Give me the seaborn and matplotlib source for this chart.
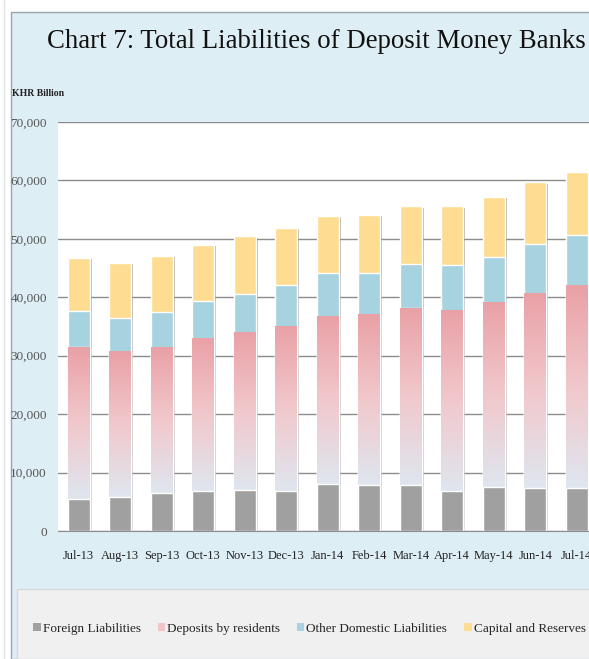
import numpy as np
import matplotlib.pyplot as plt
import matplotlib.patheffects as pe
from matplotlib.patches import Rectangle, Patch
from matplotlib.colors import LinearSegmentedColormap
import seaborn as sns

months = ["Jul-13", "Aug-13", "Sep-13", "Oct-13", "Nov-13", "Dec-13", "Jan-14",
          "Feb-14", "Mar-14", "Apr-14", "May-14", "Jun-14", "Jul-14"]
# KHR billion
foreign = [5550, 5830, 6520, 6810, 6980, 6810, 8060, 7790, 7950, 6810, 7490, 7320, 7320]
deposits = [26000, 24870, 24870, 26070, 26980, 28070, 28640, 29150, 30190, 30920, 31610, 33280, 34590]
other_dom = [6170, 5830, 6130, 6470, 6640, 7200, 7500, 7260, 7550, 7780, 7840, 8450, 8750]
capital = [9040, 9380, 9600, 9660, 9890, 9830, 9770, 9940, 9940, 10120, 10290, 10630, 10860]
labels = ["Foreign Liabilities", "Deposits by residents",
          "Other Domestic Liabilities", "Capital and Reserves"]

c_gray = "#a0a0a0"
c_pink = "#eba9ad"
c_blue = "#a6d3df"
c_yellow = "#fedd92"

sns.set_style("white")
plt.rcParams["font.family"] = ["Liberation Serif", "DejaVu Serif"]

fig = plt.figure(figsize=(5.89, 6.59), dpi=100)
W, H = 589, 659

# panel backgrounds
fig.patches.append(Rectangle((11 / W, 0), 1, 1 - 12 / H, transform=fig.transFigure,
                             facecolor="#deeef5", edgecolor="#9aa4aa", lw=1, zorder=-10))
fig.patches.append(Rectangle((17 / W, 0), 1, 70 / H, transform=fig.transFigure,
                             facecolor="#f0f0f0", edgecolor="#d6dadc", lw=1, zorder=-9))
fig.add_artist(plt.Line2D([3.5 / W, 3.5 / W], [0, 1], color="#dde3e6", lw=1))

ax = fig.add_axes([58 / W, 128 / H, 539.5 / W, 409 / H])
ax.set_facecolor("white")

f = np.array(foreign)
d = f + np.array(deposits)
o = d + np.array(other_dom)
t = o + np.array(capital)

bw = 0.53
shadow = [pe.SimplePatchShadow(offset=(1.6, -1.2), shadow_rgbFace="#6f6f6f", alpha=0.5),
          pe.Normal()]
sns.barplot(x=months, y=t, color=c_yellow, saturation=1, width=bw, ax=ax, zorder=2)
for p in ax.patches:
    p.set_path_effects(shadow)
sns.barplot(x=months, y=o, color=c_blue, saturation=1, width=bw, ax=ax, zorder=2.1)
n_before = len(ax.patches)
sns.barplot(x=months, y=d, color=c_pink, saturation=1, width=bw, ax=ax, zorder=2.2)
dep_bars = ax.patches[n_before:]

# vertical gradient of the deposits segment
cmap = LinearSegmentedColormap.from_list("dep", ["#dfe6ef", "#f1c8cc", "#e9a1a6"])
grad = np.linspace(0, 1, 256).reshape(-1, 1)
for p, lo, hi in zip(dep_bars, f, d):
    x0 = p.get_x()
    ax.imshow(grad, cmap=cmap, origin="lower", aspect="auto",
              extent=(x0, x0 + p.get_width(), lo, hi), zorder=2.3, interpolation="bilinear")

sns.barplot(x=months, y=f, color=c_gray, saturation=1, width=bw, ax=ax, zorder=2.4)

ax.set_xlim(-0.5, 12.5)
ax.set_ylim(0, 70000)
ax.set_yticks(np.arange(0, 70001, 10000))
ax.set_yticklabels([f"{v:,}" for v in range(0, 70001, 10000)])
ax.set_axisbelow(True)
ax.yaxis.grid(True, color="#8c8c8c", lw=1)
ax.xaxis.grid(False)
for s in ["left", "right", "top"]:
    ax.spines[s].set_visible(False)
ax.spines["bottom"].set_color("#8c8c8c")
ax.tick_params(axis="y", length=0, pad=8, labelsize=9.5, labelcolor="#555555")
ax.tick_params(axis="x", length=0, pad=14, labelsize=9, labelcolor="#222222")
ax.set_xlabel("")
ax.set_ylabel("")

fig.text(316 / W, 1 - 42 / H, "Chart 7: Total Liabilities of Deposit Money Banks",
         ha="center", va="center", fontsize=19.3, color="#111111")
fig.text(12 / W, 1 - 93 / H, "KHR Billion", ha="left", va="center",
         fontsize=7, fontweight="bold", color="#222222")

handles = [Patch(facecolor=c, edgecolor="none")
           for c in [c_gray, "#f4c3c6", c_blue, c_yellow]]
fig.legend(handles, labels, loc="center left", bbox_to_anchor=(28 / W, 30 / H), ncol=4,
           frameon=False, fontsize=9.5, handlelength=0.55, handleheight=0.55,
           handletextpad=0.15, columnspacing=1.3, borderaxespad=0)

fig.savefig("out.png", dpi=100)
